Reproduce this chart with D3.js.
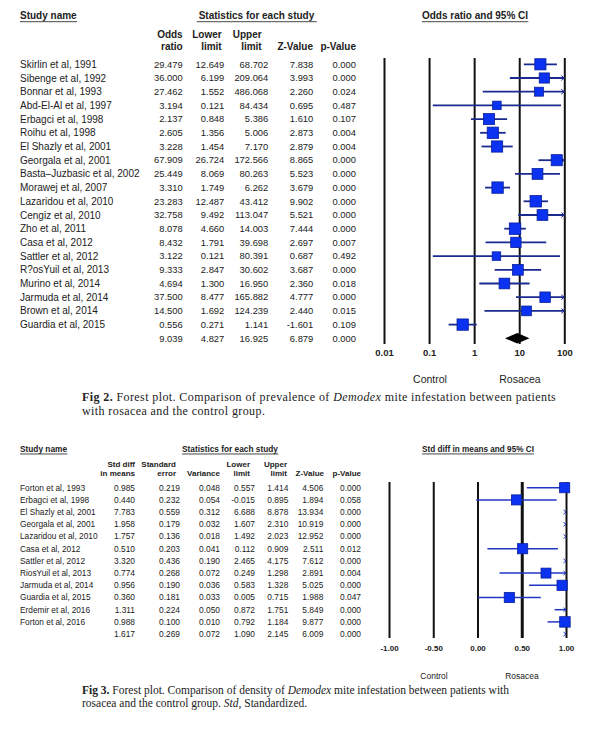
<!DOCTYPE html>
<html>
<head>
<meta charset="utf-8">
<script src="https://cdn.jsdelivr.net/npm/d3@7"></script>
<style>
  body { margin: 0; background: #fff; }
  text { font-family: "Liberation Sans", Arial, sans-serif; fill: #222; }
  .cap text, text.cap { font-family: "Liberation Serif", "Times New Roman", serif; }
</style>
</head>
<body>
<div id="chart"></div>
<script>
// ---- Fig 2: odds ratio of Demodex prevalence ----
const studies1 = [
  "Skirlin et al, 1991", "Sibenge et al, 1992", "Bonnar et al, 1993", "Abd-El-Al et al, 1997",
  "Erbagci et al, 1998", "Roihu et al, 1998", "El Shazly et al, 2001", "Georgala et al, 2001",
  "Basta\u2013Juzbasic et al, 2002", "Morawej et al, 2007", "Lazaridou et al, 2010", "Cengiz et al, 2010",
  "Zho et al, 2011", "Casa et al, 2012", "Sattler et al, 2012", "R?osYuil et al, 2013",
  "Murino et al, 2014", "Jarmuda et al, 2014", "Brown et al, 2014", "Guardia et al, 2015"
];
const oddsRatio1 = [29.479, 36.000, 27.462, 3.194, 2.137, 2.605, 3.228, 67.909, 25.449, 3.310,
  23.283, 32.758, 8.078, 8.432, 3.122, 9.333, 4.694, 37.500, 14.500, 0.556];
const lower1 = [12.649, 6.199, 1.552, 0.121, 0.848, 1.356, 1.454, 26.724, 8.069, 1.749,
  12.487, 9.492, 4.660, 1.791, 0.121, 2.847, 1.300, 8.477, 1.692, 0.271];
const upper1 = [68.702, 209.064, 486.068, 84.434, 5.386, 5.006, 7.170, 172.566, 80.263, 6.262,
  43.412, 113.047, 14.003, 39.698, 80.391, 30.602, 16.950, 165.882, 124.239, 1.141];
const zValue1 = [7.838, 3.993, 2.260, 0.695, 1.610, 2.873, 2.879, 8.865, 5.523, 3.679,
  9.902, 5.521, 7.444, 2.697, 0.687, 3.687, 2.360, 4.777, 2.440, -1.601];
const pValue1 = [0.000, 0.000, 0.024, 0.487, 0.107, 0.004, 0.004, 0.000, 0.000, 0.000,
  0.000, 0.000, 0.000, 0.007, 0.492, 0.000, 0.018, 0.000, 0.015, 0.109];
const total1 = { or: 9.039, lo: 4.827, hi: 16.925, z: 6.879, p: 0.000 };
const ticks1 = [0.01, 0.1, 1, 10, 100];

// ---- Fig 3: standardised difference in Demodex density ----
const studies2 = [
  "Forton et al, 1993", "Erbagci et al, 1998", "El Shazly et al, 2001", "Georgala et al, 2001",
  "Lazaridou et al, 2010", "Casa et al, 2012", "Sattler et al, 2012", "RiosYuil et al, 2013",
  "Jarmuda et al, 2014", "Guardia et al, 2015", "Erdemir et al, 2016", "Forton et al, 2016"
];
const stdDiff2 = [0.985, 0.440, 7.783, 1.958, 1.757, 0.510, 3.320, 0.774, 0.956, 0.360, 1.311, 0.988];
const stdErr2 = [0.219, 0.232, 0.559, 0.179, 0.136, 0.203, 0.436, 0.268, 0.190, 0.181, 0.224, 0.100];
const variance2 = [0.048, 0.054, 0.312, 0.032, 0.018, 0.041, 0.190, 0.072, 0.036, 0.033, 0.050, 0.010];
const lower2 = [0.557, -0.015, 6.688, 1.607, 1.492, 0.112, 2.465, 0.249, 0.583, 0.005, 0.872, 0.792];
const upper2 = [1.414, 0.895, 8.878, 2.310, 2.023, 0.909, 4.175, 1.298, 1.328, 0.715, 1.751, 1.184];
const zValue2 = [4.506, 1.894, 13.934, 10.919, 12.952, 2.511, 7.612, 2.891, 5.025, 1.988, 5.849, 9.877];
const pValue2 = [0.000, 0.058, 0.000, 0.000, 0.000, 0.012, 0.000, 0.004, 0.000, 0.047, 0.000, 0.000];
const total2 = { smd: 1.617, se: 0.269, v: 0.072, lo: 1.090, hi: 2.145, z: 6.009, p: 0.000 };
const ticks2 = [-1, -0.5, 0, 0.5, 1];

// d3.format uses a unicode minus, the source uses a plain hyphen
const f3 = v => d3.format(".3f")(v).replace("\u2212", "-");
const boxFill = "#0a32f0", boxStroke = "#0a1f9a";

const svg = d3.select("#chart").append("svg")
  .attr("width", 600).attr("height", 740)
  .style("background", "#fff");

function label(g, x, y, txt, size, opts = {}) {
  const t = g.append("text")
    .attr("x", x).attr("y", y).attr("dy", "0.35em")
    .attr("text-anchor", opts.anchor || "start")
    .attr("font-size", size)
    .attr("font-weight", opts.bold ? "bold" : null)
    .text(txt);
  if (opts.underline) {
    const b = t.node().getBBox();
    g.append("line")
      .attr("x1", b.x - (opts.pad || 0)).attr("x2", b.x + b.width + (opts.pad || 0))
      .attr("y1", y + size * 0.6).attr("y2", y + size * 0.6)
      .attr("stroke", "#333").attr("stroke-width", 0.9);
  }
  return t;
}

function drawTable(g, rows, cols, y) {
  cols.forEach(c => {
    g.selectAll(null).data(rows).enter().append("text")
      .attr("x", c.x).attr("y", (d, i) => y(i)).attr("dy", "0.35em")
      .attr("text-anchor", c.anchor || "end")
      .attr("font-size", c.size)
      .text(c.get);
  });
}

function chevron(g, x, y, s, col) {
  g.append("path")
    .attr("d", `M${x - s},${y - s * 0.8}L${x},${y}L${x - s},${y + s * 0.8}`)
    .attr("fill", "none").attr("stroke", col).attr("stroke-width", 1);
}

// caption: one <text> per line, parts = [[string, style]]
function caption(g, x, y, parts, size, spacing) {
  const t = g.append("text").attr("class", "cap")
    .attr("x", x).attr("y", y).attr("font-size", size)
    .attr("letter-spacing", spacing || 0);
  parts.forEach(([s, st]) => {
    t.append("tspan")
      .attr("font-weight", st === "b" ? "bold" : null)
      .attr("font-style", st === "i" ? "italic" : null)
      .text(s);
  });
}

// ================= FIG 2 =================
{
  const g = svg.append("g");
  const lineCol = "#1b2a8e";
  const rows = studies1.map((s, i) => ({
    name: s, or: oddsRatio1[i], lo: lower1[i], hi: upper1[i], z: zValue1[i], p: pValue1[i]
  }));
  const allRows = rows.concat([{ name: "", ...total1 }]);
  const y = d3.scaleLinear().domain([0, 20]).range([64.3, 338.3]);
  const x = d3.scaleLog().domain([0.01, 100]).range([384, 564.3]);

  label(g, 20, 15.7, "Study name", 10, { bold: true, underline: true });
  label(g, 256.5, 15.7, "Statistics for each study", 10, { bold: true, underline: true, anchor: "middle", pad: 2 });
  label(g, 475, 15.7, "Odds ratio and 95% CI", 10, { bold: true, underline: true, anchor: "middle" });

  const heads = [["Odds", "ratio", 182.7], ["Lower", "limit", 221.7], ["Upper", "limit", 261.7],
                 ["", "Z-Value", 313], ["", "p-Value", 356]];
  heads.forEach(h => {
    label(g, h[2], 34.3, h[0], 10, { bold: true, anchor: "end" });
    label(g, h[2], 46.7, h[1], 10, { bold: true, anchor: "end" });
  });

  drawTable(g, allRows, [
    { x: 20, anchor: "start", size: 10, get: d => d.name },
    { x: 182.7, size: 9.4, get: d => f3(d.or) },
    { x: 224.3, size: 9.4, get: d => f3(d.lo) },
    { x: 268.3, size: 9.4, get: d => f3(d.hi) },
    { x: 313.3, size: 9.4, get: d => f3(d.z) },
    { x: 356, size: 9.4, get: d => f3(d.p) }
  ], y);

  // full-height reference lines via the axis
  const axis = g.append("g")
    .attr("transform", "translate(0,344)")
    .call(d3.axisBottom(x).tickValues(ticks1).tickSize(-(344 - 58)).tickPadding(5)
      .tickFormat(d => String(d)));
  axis.select(".domain").remove();
  axis.selectAll(".tick line").attr("stroke", "#111").attr("stroke-width", 2);
  axis.selectAll(".tick text").attr("font-size", 9.5).attr("font-weight", "bold")
    .attr("fill", "#222").attr("font-family", "'Liberation Sans', Arial, sans-serif");

  const se = rows.map(d => (Math.log(d.hi) - Math.log(d.lo)) / 3.92);
  const size = d3.scaleLinear().domain(d3.extent(se)).range([11.5, 8.5]);
  const [dMin, dMax] = x.domain();

  rows.forEach((d, i) => {
    const x1 = x(Math.max(d.lo, dMin)), x2 = x(Math.min(d.hi, dMax));
    g.append("line").attr("x1", x1).attr("x2", x2).attr("y1", y(i)).attr("y2", y(i))
      .attr("stroke", lineCol).attr("stroke-width", 1.8);
    if (d.hi > dMax) chevron(g, x(dMax), y(i), 3, lineCol);
    const s = size(se[i]);
    g.append("rect")
      .attr("x", x(d.or) - s / 2).attr("y", y(i) - s / 2)
      .attr("width", s).attr("height", s)
      .attr("fill", boxFill).attr("stroke", boxStroke).attr("stroke-width", 0.8);
  });

  // summary diamond
  const ys = y(20);
  g.append("path")
    .attr("d", `M${x(total1.lo)},${ys}L${x(total1.or)},${ys - 5.3}L${x(total1.hi)},${ys}L${x(total1.or)},${ys + 5.3}Z`)
    .attr("fill", "#000");

  label(g, 430, 379, "Control", 10.5, { anchor: "middle" });
  label(g, 520, 379, "Rosacea", 10.5, { anchor: "middle" });

  caption(g, 82, 401, [["Fig 2.", "b"], [" Forest plot. Comparison of prevalence of ", ""],
    ["Demodex", "i"], [" mite infestation between patients", ""]], 12, 0.4);
  caption(g, 82, 415, [["with rosacea and the control group.", ""]], 12, 0.4);
}

// ================= FIG 3 =================
{
  const g = svg.append("g");
  const lineCol = "#2236c4";
  const rows = studies2.map((s, i) => ({
    name: s, smd: stdDiff2[i], se: stdErr2[i], v: variance2[i], lo: lower2[i], hi: upper2[i],
    z: zValue2[i], p: pValue2[i]
  }));
  const allRows = rows.concat([{ name: "", ...total2 }]);
  const y = d3.scaleLinear().domain([0, 12]).range([487.7, 634.1]);
  const x = d3.scaleLinear().domain([-1, 1]).range([389, 566]);

  label(g, 20, 449, "Study name", 8.3, { bold: true, underline: true });
  label(g, 230, 449, "Statistics for each study", 8.3, { bold: true, underline: true, anchor: "middle" });
  label(g, 478, 449, "Std diff in means and 95% CI", 8.2, { bold: true, underline: true, anchor: "middle" });

  const heads = [["Std diff", "in means", 135], ["Standard", "error", 176], ["", "Variance", 220],
                 ["Lower", "limit", 250], ["Upper", "limit", 287], ["", "Z-Value", 324], ["", "p-Value", 361]];
  heads.forEach(h => {
    label(g, h[2], 464, h[0], 8, { bold: true, anchor: "end" });
    label(g, h[2], 473.5, h[1], 8, { bold: true, anchor: "end" });
  });

  drawTable(g, allRows, [
    { x: 20, anchor: "start", size: 8.3, get: d => d.name },
    { x: 135, size: 8.4, get: d => f3(d.smd) },
    { x: 180, size: 8.4, get: d => f3(d.se) },
    { x: 220, size: 8.4, get: d => f3(d.v) },
    { x: 255, size: 8.4, get: d => f3(d.lo) },
    { x: 288.3, size: 8.4, get: d => f3(d.hi) },
    { x: 323.3, size: 8.4, get: d => f3(d.z) },
    { x: 361, size: 8.4, get: d => f3(d.p) }
  ], y);

  const axis = g.append("g")
    .attr("transform", "translate(0,638)")
    .call(d3.axisBottom(x).tickValues(ticks2).tickSize(-(638 - 482)).tickPadding(7)
      .tickFormat(d => d3.format(".2f")(d).replace("\u2212", "-")));
  axis.select(".domain").remove();
  axis.selectAll(".tick line").attr("stroke", "#111")
    .attr("stroke-width", d => d === 0.5 ? 3 : 2);
  axis.selectAll(".tick text").attr("font-size", 8).attr("font-weight", "bold")
    .attr("fill", "#333").attr("font-family", "'Liberation Sans', Arial, sans-serif");

  const size = d3.scaleLinear().domain(d3.extent(stdErr2)).range([10.5, 9]);
  const [dMin, dMax] = x.domain();

  rows.concat([{ ...total2, summary: true }]).forEach((d, i) => {
    if (d.lo < dMax) {
      g.append("line")
        .attr("x1", x(Math.max(d.lo, dMin))).attr("x2", x(Math.min(d.hi, dMax)))
        .attr("y1", y(i)).attr("y2", y(i))
        .attr("stroke", lineCol).attr("stroke-width", 1.5);
    }
    if (d.hi > dMax) chevron(g, x(dMax), y(i), 2.5, lineCol);
    if (!d.summary && d.smd <= dMax) {
      const s = size(d.se);
      g.append("rect")
        .attr("x", x(d.smd) - s / 2).attr("y", y(i) - s / 2)
        .attr("width", s).attr("height", s)
        .attr("fill", boxFill).attr("stroke", boxStroke).attr("stroke-width", 0.8);
    }
  });

  label(g, 434, 676, "Control", 8.5, { anchor: "middle" });
  label(g, 522, 676, "Rosacea", 8.5, { anchor: "middle" });

  caption(g, 82, 693.5, [["Fig 3.", "b"], [" Forest plot. Comparison of density of ", ""],
    ["Demodex", "i"], [" mite infestation between patients with", ""]], 11.5);
  caption(g, 82, 707, [["rosacea and the control group. ", ""], ["Std", "i"], [", Standardized.", ""]], 11.5);
}
</script>
</body>
</html>
